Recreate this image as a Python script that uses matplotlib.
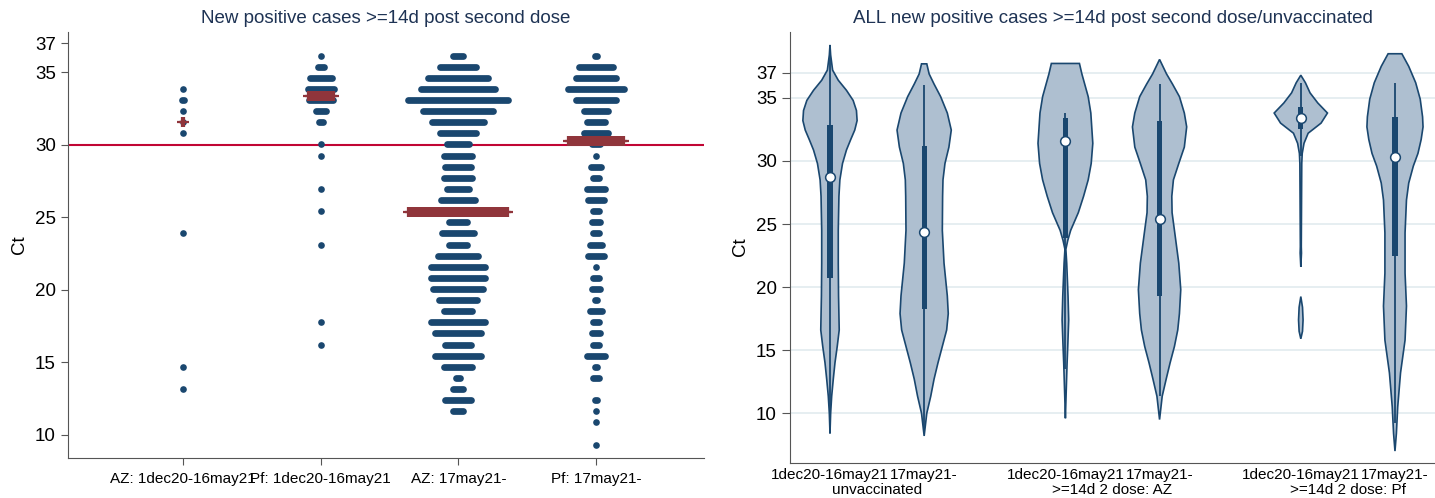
import numpy as np
import matplotlib
matplotlib.use('Agg')
import matplotlib.pyplot as plt

plt.rcParams['font.family'] = ['Liberation Sans', 'DejaVu Sans']

NAVY = '#1a476f'
MAROON = '#90353b'
RED_LINE = '#c10534'
VIO_FILL = '#aebfd0'
GRID = '#e4edf0'
TITLE_COL = '#1e3354'
SPINE = '#555555'

# ---- left panel: dot plot (Ct row, number of dots in row) ----
dot_labels = ['AZ: 1dec20-16may21', 'Pf: 1dec20-16may21', 'AZ: 17may21-', 'Pf: 17may21-']

az_early_ct = [33.86, 33.1, 32.33, 31.57, 30.8, 23.9, 14.7, 13.16]
az_early_n = [1, 2, 1, 1, 1, 1, 1, 1]

pf_early_ct = [36.16, 35.4, 34.63, 33.86, 33.1, 32.33, 31.57, 30.03, 29.26, 26.96,
               25.43, 23.13, 17.76, 16.23]
pf_early_n = [1, 4, 12, 14, 13, 6, 3, 1, 1, 1, 1, 1, 1, 1]

az_late_ct = [36.16, 35.4, 34.63, 33.86, 33.1, 32.33, 31.57, 30.8, 30.03, 29.26,
              28.5, 27.73, 26.96, 26.2, 25.43, 24.66, 23.9, 23.13, 22.36, 21.6,
              20.83, 20.06, 19.3, 18.53, 17.76, 17.0, 16.23, 15.46, 14.7, 13.93,
              13.16, 12.4, 11.63]
az_late_n = [6, 19, 31, 38, 51, 36, 27, 19, 12, 15, 14, 15, 12, 18, 35, 10, 17, 10,
             21, 28, 28, 26, 20, 15, 28, 24, 14, 24, 15, 3, 6, 14, 6]

pf_late_ct = [36.16, 35.4, 34.63, 33.86, 33.1, 32.33, 31.57, 30.8, 30.03, 29.26,
              28.5, 27.73, 26.96, 26.2, 25.43, 24.66, 23.9, 23.13, 22.36, 21.6,
              20.83, 20.06, 19.3, 18.53, 17.76, 17.0, 16.23, 15.46, 14.7, 13.93,
              12.4, 11.63, 10.86, 9.33]
pf_late_n = [2, 18, 21, 29, 21, 13, 10, 13, 5, 1, 6, 4, 10, 9, 4, 5, 4, 7, 9, 1,
             4, 5, 2, 7, 4, 5, 4, 10, 2, 4, 2, 1, 1, 1]

dot_medians = [31.6, 33.4, 25.4, 30.3]
ref_ct = 30

# ---- right panel: violins (Ct level, half width) ----
vio_pos = [1, 2, 3.5, 4.5, 6, 7]
vio_labels = ['1dec20-16may21', '17may21-'] * 3
vio_groups = ['unvaccinated', '>=14d 2 dose: AZ', '>=14d 2 dose: Pf']
vio_group_pos = [1.5, 4, 6.5]

v1_ct = [8.4, 10.0, 11.35, 12.7, 14.0, 15.3, 16.6, 19.3, 21.9, 24.5, 27.2, 28.5, 29.8,
         30.87, 31.66, 32.45, 33.2, 34.0, 34.8, 35.6, 36.4, 37.2, 38.4, 39.2]
v1_hw = [0, .007, .018, .035, .053, .077, .098, .091, .088, .088, .095, .105, .133,
         .175, .218, .263, .288, .281, .246, .175, .088, .028, .007, 0]

v2_ct = [8.2, 10.0, 11.35, 12.7, 14.0, 15.3, 16.6, 17.9, 19.3, 21.9, 24.5, 27.2, 28.5,
         29.8, 31.1, 32.45, 33.8, 35.1, 36.1, 36.9, 37.7]
v2_hw = [0, .028, .070, .105, .147, .193, .239, .256, .246, .211, .193, .196, .2,
         .221, .263, .288, .246, .175, .105, .053, .028]

v3_ct = [9.6, 11.35, 14.0, 15.3, 17.4, 19.3, 20.6, 21.9, 23.0, 23.7, 24.5, 25.9, 27.2,
         28.5, 29.8, 31.4, 33.8, 35.1, 36.9, 37.73]
v3_hw = [0, .007, .018, .025, .035, .028, .021, .014, .005, .025, .056, .137, .193,
         .242, .274, .291, .270, .242, .175, .149]

v4_ct = [9.5, 11.35, 12.7, 14.0, 15.3, 16.6, 17.9, 19.8, 21.9, 24.5, 25.9, 27.2, 28.5,
         29.8, 31.1, 32.7, 33.8, 35.1, 36.1, 36.9, 38.05]
v4_hw = [0, .028, .070, .112, .158, .193, .211, .225, .204, .158, .133, .130, .147,
         .204, .263, .288, .263, .211, .137, .074, 0]

v5_ct = [21.6, 22.7, 23.2, 29.8, 30.6, 31.4, 32.2, 33.0, 33.8, 34.6, 35.4, 36.2, 36.8]
v5_hw = [0, .007, .005, .01, .015, .034, .078, .215, .283, .18, .098, .049, 0]
v5_low_ct = [15.9, 16.5, 17.4, 18.4, 19.25]
v5_low_hw = [0, .018, .024, .018, 0]

v6_ct = [7.0, 8.4, 10.5, 13.2, 15.8, 18.5, 21.1, 23.75, 24.3, 26.9, 28.25, 29.6, 30.6,
         31.7, 32.7, 33.5, 34.9, 36.2, 37.5, 38.5]
v6_hw = [0, .015, .029, .059, .107, .122, .107, .107, .107, .122, .146, .195, .244,
         .278, .298, .293, .268, .220, .146, .073]

vio_median = [28.7, 24.4, 31.6, 25.4, 33.4, 30.35]
vio_q1 = [20.7, 18.3, 23.9, 19.3, 32.5, 22.5]
vio_q3 = [32.85, 31.2, 33.4, 33.2, 34.3, 33.5]
vio_lo = [9.2, 8.7, 13.5, 11.35, 30.4, 9.2]
vio_hi = [38.4, 36.0, 33.8, 36.1, 36.2, 36.2]

yticks = [10, 15, 20, 25, 30, 35, 37]

fig = plt.figure(figsize=(14.35, 4.98), dpi=100)

# Left panel
ax = fig.add_axes([0.0472, 0.0797, 0.4434, 0.8566])
step = 0.0145
groups = [(az_early_ct, az_early_n), (pf_early_ct, pf_early_n),
          (az_late_ct, az_late_n), (pf_late_ct, pf_late_n)]
ax.axhline(ref_ct, color=RED_LINE, lw=1.5, zorder=1)
for i, (cts, ns) in enumerate(groups):
    xc = i + 1
    for ct, n in zip(cts, ns):
        xs = xc + (np.arange(n) - (n - 1) / 2) * step
        ax.plot(xs, [ct] * n, 'o', color=NAVY, ms=4.8, mew=0, zorder=2)
    nmax = max(ns)
    xs = xc + (np.arange(nmax) - (nmax - 1) / 2) * step
    ax.plot(xs, [dot_medians[i]] * nmax, '+', color=MAROON, ms=7, mew=1.6, zorder=3)

ax.set_xlim(0.167, 4.78)
ax.set_ylim(8.39, 37.8)
ax.set_xticks([1, 2, 3, 4])
ax.set_xticklabels(dot_labels, fontsize=11)
ax.set_yticks(yticks)
ax.tick_params(axis='y', labelsize=13.5, length=5, color=SPINE)
ax.tick_params(axis='x', length=5, color=SPINE, pad=5)
ax.set_ylabel('Ct', fontsize=13.5, labelpad=5)
ax.set_title('New positive cases >=14d post second dose', fontsize=13.5,
             color=TITLE_COL, pad=6)
for s in ['top', 'right']:
    ax.spines[s].set_visible(False)
for s in ['left', 'bottom']:
    ax.spines[s].set_color(SPINE)

# Right panel
ax2 = fig.add_axes([0.5505, 0.0709, 0.4495, 0.8655])
for y in yticks:
    ax2.axhline(y, color=GRID, lw=1.3, zorder=0)

shapes = [(v1_ct, v1_hw), (v2_ct, v2_hw), (v3_ct, v3_hw),
          (v4_ct, v4_hw), (v5_ct, v5_hw), (v6_ct, v6_hw)]
for p, (cts, hw) in zip(vio_pos, shapes):
    cts = np.array(cts)
    hw = np.array(hw)
    ax2.fill(np.concatenate([p + hw, (p - hw)[::-1]]),
             np.concatenate([cts, cts[::-1]]),
             facecolor=VIO_FILL, edgecolor=NAVY, lw=1.2, zorder=2)

lc = np.array(v5_low_ct)
lh = np.array(v5_low_hw)
ax2.fill(np.concatenate([6 + lh, (6 - lh)[::-1]]), np.concatenate([lc, lc[::-1]]),
         facecolor=VIO_FILL, edgecolor=NAVY, lw=1.2, zorder=2)

ax2.vlines(vio_pos, vio_lo, vio_hi, color=NAVY, lw=1.3, zorder=3)
ax2.bar(vio_pos, np.array(vio_q3) - np.array(vio_q1), bottom=vio_q1, width=0.055,
        color=NAVY, zorder=4)
ax2.plot(vio_pos, vio_median, 'o', mfc='white', mec=NAVY, mew=1.1, ms=7, ls='none',
         zorder=5)

ax2.set_xlim(0.575, 7.425)
ax2.set_ylim(6.08, 40.25)
ax2.set_xticks(vio_pos)
ax2.set_xticklabels(vio_labels, fontsize=11)
ax2.tick_params(axis='x', length=0, pad=4)
ax2.set_yticks(yticks)
ax2.tick_params(axis='y', labelsize=13.5, length=6, color=SPINE)
for gx, g in zip(vio_group_pos, vio_groups):
    ax2.annotate(g, xy=(gx, 0), xycoords=('data', 'axes fraction'),
                 xytext=(0, -19.5), textcoords='offset points',
                 ha='center', va='center', fontsize=11)
ax2.set_ylabel('Ct', fontsize=13.5, labelpad=5)
ax2.set_title('ALL new positive cases >=14d post second dose/unvaccinated',
              fontsize=13.5, color=TITLE_COL, pad=6)
for s in ['top', 'right']:
    ax2.spines[s].set_visible(False)
for s in ['left', 'bottom']:
    ax2.spines[s].set_color(SPINE)

fig.savefig('out.png', dpi=100)
